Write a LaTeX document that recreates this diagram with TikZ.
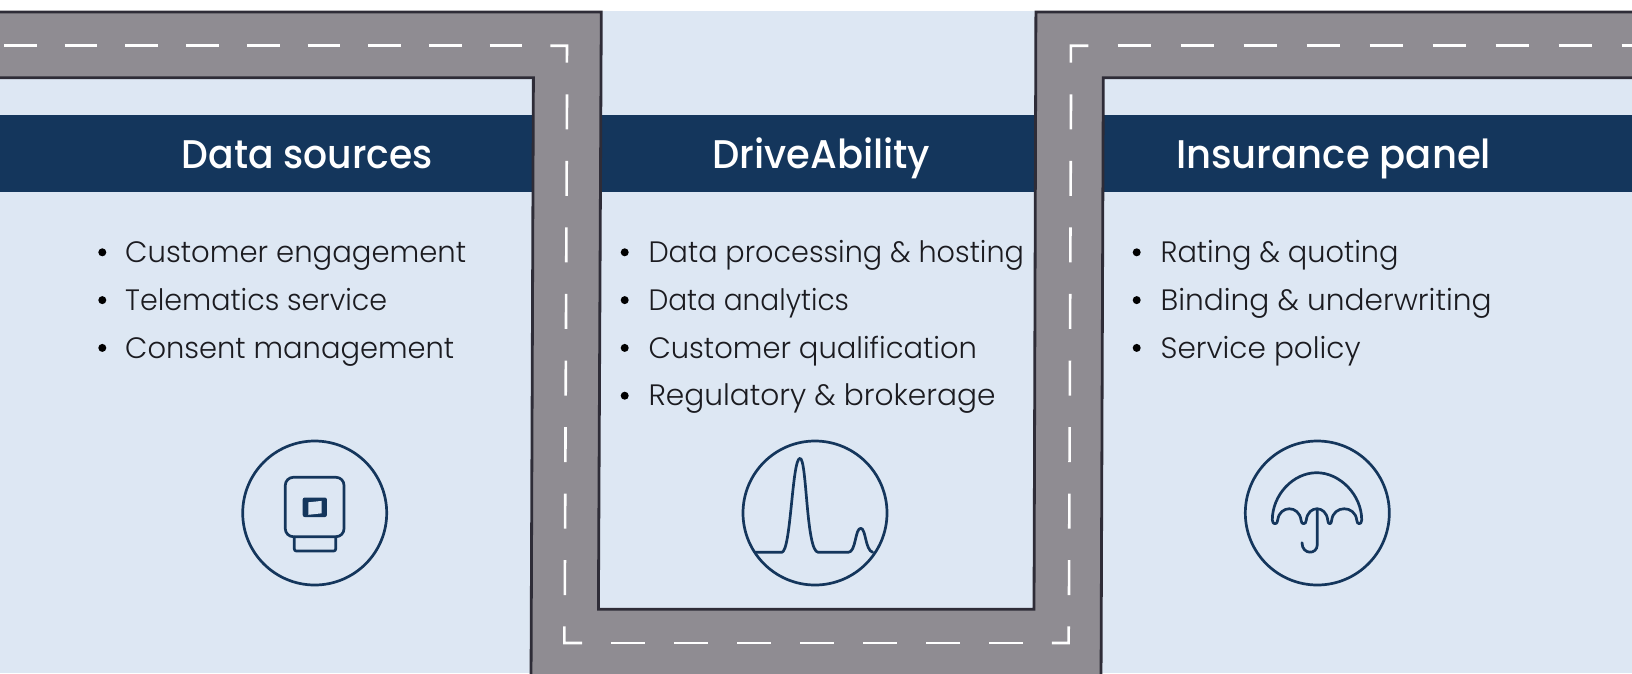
\documentclass[tikz,border=0pt]{standalone}
\usepackage{graphicx}
\usepackage{fontspec}
\newfontfamily\bodyf{Poppins Light}
\newfontfamily\headf{Poppins Medium}
\definecolor{bg}{HTML}{DDE7F3}
\definecolor{navy}{HTML}{14365C}
\definecolor{road}{HTML}{8F8C92}
\definecolor{edge}{HTML}{2E2C37}
\definecolor{ink}{HTML}{1B1B20}
\newcommand{\fitw}[2]{\resizebox{#1pt}{\height}{#2}}
\tikzset{
  roadshape/.style={fill=road,draw=edge,line width=2.8pt,miter limit=10},
  lane/.style={draw=white,line width=2.6pt},
  lanev/.style={lane,dash pattern=on 35pt off 31.55pt},
  laneh/.style={lane,dash pattern=on 33.7pt off 29.3pt},
  icon/.style={draw=navy,line width=2.7pt,line cap=round,line join=round},
  head/.style={anchor=base,text=white,inner sep=0pt,font=\headf\fontsize{40}{48}\selectfont},
  item/.style={anchor=base west,text=ink,inner sep=0pt,font=\bodyf\fontsize{29.5}{36}\selectfont},
  dot/.style={circle,fill=black,minimum size=8pt,inner sep=0pt},
}
\begin{document}
\begin{tikzpicture}[x=1pt,y=-1pt]
\useasboundingbox (0,0) rectangle (1632,673);
\fill[white] (0,0) rectangle (1632,673);
\fill[bg] (0,11) rectangle (1632,673);
\fill[navy] (0,115) rectangle (1632,191.6);
% road
\begin{scope}
\clip (0,0) rectangle (1632,673);
\draw[roadshape] (-8,12) -- (601.3,12) -- (598.4,609.3) -- (1034,609.3) -- (1035.9,12) -- (1640,12)
  -- (1640,77.8) -- (1103.3,77.8) -- (1101,685) -- (531,685) -- (533.4,77.8) -- (-8,77.8) -- cycle;
\end{scope}
% lane marks
\draw[lane,dash pattern=on 32.7pt off 28pt] (4,45.7) -- (522.4,45.7);
\draw[lane] (550.4,45.7) -- (567,45.7) -- (566.9,62.7);
\draw[lanev] (567,94.3) -- (564.8,595);
\draw[lane] (564.4,626.4) -- (564.3,643) -- (582,643);
\draw[laneh] (611,643) -- (1022.8,643);
\draw[lane] (1051.8,643) -- (1068.6,643) -- (1068.7,626.4);
\draw[lanev] (1071,94.3) -- (1069,595);
\draw[lane] (1070.8,62.7) -- (1070.9,45.7) -- (1088.3,45.7);
\draw[laneh] (1117.7,45.7) -- (1632,45.7);
% headings
\node[head] (h1) at (307.2,168) {\fitw{251}{Data sources}};
\node[head] (h2) at (821.2,168) {\fitw{218}{DriveAbility}};
\node[head] (h3) at (1333.6,168) {\fitw{315}{Insurance panel}};
% left list
\node[dot] (a1) at (102.3,252.3) {};
\node[dot] (a2) at (102.3,300.1) {};
\node[dot] (a3) at (102.3,347.9) {};
\node[item] (t1) at (125,262.4) {\fitw{341}{Customer engagement}};
\node[item] (t2) at (125,310.2) {\fitw{262}{Telematics service}};
\node[item] (t3) at (125,358) {\fitw{329}{Consent management}};
% middle list
\node[dot] (b1) at (624.7,252.3) {};
\node[dot] (b2) at (624.7,300.1) {};
\node[dot] (b3) at (624.7,347.9) {};
\node[dot] (b4) at (624.7,395.7) {};
\node[item] (u1) at (648.3,262.4) {\fitw{375.5}{Data processing \& hosting}};
\node[item] (u2) at (648.3,310.2) {\fitw{200.5}{Data analytics}};
\node[item] (u3) at (648.3,358) {\fitw{328.5}{Customer qualification}};
\node[item] (u4) at (648.3,405.8) {\fitw{347}{Regulatory \& brokerage}};
% right list
\node[dot] (c1) at (1136.7,252.3) {};
\node[dot] (c2) at (1136.7,300.1) {};
\node[dot] (c3) at (1136.7,347.9) {};
\node[item] (v1) at (1160.4,262.4) {\fitw{238}{Rating \& quoting}};
\node[item] (v2) at (1160.4,310.2) {\fitw{331}{Binding \& underwriting}};
\node[item] (v3) at (1160.4,358) {\fitw{200}{Service policy}};
% icon 1
\draw[icon] (314.7,513) circle[radius=72];
\draw[icon,rounded corners=8pt] (285.3,477.3) rectangle (344,536.7);
\draw[icon,rounded corners=2pt] (294.3,537) -- (294.3,551) -- (335.7,551) -- (335.7,537);
\fill[navy,rounded corners=2pt] (302.7,497.5) rectangle (326.9,517);
\fill[bg] (308.3,502.3) -- (321.7,500.9) -- (321.7,513.3) -- (308.3,514.8) -- cycle;
% icon 2
\draw[icon] (815,513) circle[radius=72];
\draw[icon] (755,552.3) -- (781.7,552.3) .. controls (791,552.3) and (792,458.3) .. (800,458.3)
  .. controls (807,458.3) and (806,552.3) .. (818.3,552.3) -- (848.3,552.3)
  .. controls (856,552.3) and (855,528.3) .. (860.7,528.3)
  .. controls (866,528.3) and (865,550) .. (872.7,552.3);
% icon 3
\draw[icon] (1317.3,513) circle[radius=72];
\draw[icon] (1272.3,520) .. controls (1272.3,495) and (1293,472.7) .. (1316.7,472.7)
  .. controls (1340,472.7) and (1361.7,495) .. (1361.7,520)
  .. controls (1361.7,525) and (1356.7,525) .. (1356.7,520)
  .. controls (1355,505) and (1333.5,505) .. (1331.7,520)
  .. controls (1331.7,525) and (1327.7,525) .. (1327.7,520)
  .. controls (1326,505) and (1308,505) .. (1306.3,520)
  .. controls (1306.3,525) and (1301,525) .. (1301,520)
  .. controls (1299,505) and (1279.5,505) .. (1277.7,520)
  .. controls (1277.7,525) and (1272.3,525) .. (1272.3,520);
\draw[icon] (1317.3,509) -- (1317.3,544.5) .. controls (1317.3,555) and (1302,555) .. (1302,542.7);
\end{tikzpicture}
\end{document}
